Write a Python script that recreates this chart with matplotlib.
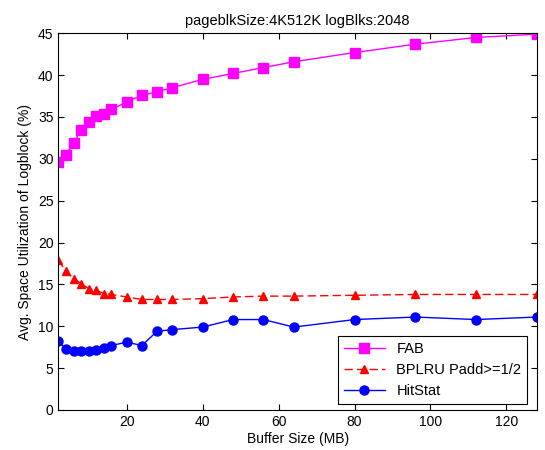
import matplotlib
matplotlib.use('Agg')
import matplotlib.pyplot as plt

plt.rcParams['font.family'] = ['Liberation Sans', 'DejaVu Sans']

# buffer sizes (MB)
bufSize = [2, 4, 6, 8, 10, 12, 14, 16, 20, 24, 28, 32, 40, 48, 56, 64, 80, 96, 112, 128]

# avg. space utilization of logblock (%)
fab = [29.6, 30.5, 31.9, 33.4, 34.4, 35.1, 35.4, 35.9, 36.8, 37.6, 38.0, 38.5,
       39.5, 40.2, 40.9, 41.6, 42.7, 43.7, 44.5, 44.9]
bplru = [17.9, 16.6, 15.7, 15.1, 14.5, 14.3, 13.9, 13.8, 13.5, 13.2, 13.2, 13.2,
         13.3, 13.5, 13.6, 13.6, 13.7, 13.8, 13.8, 13.8]
hitstat = [8.2, 7.3, 7.0, 7.0, 7.0, 7.2, 7.4, 7.7, 8.1, 7.7, 9.4, 9.6,
           9.9, 10.8, 10.8, 9.9, 10.8, 11.1, 10.8, 11.1]

fig = plt.figure(figsize=(5.45, 4.5), dpi=100)
ax = fig.add_axes([0.107, 0.089, 0.878, 0.837])

ax.plot(bufSize, fab, '-s', color='#ff00ff', lw=1, ms=6.5, label='FAB')
ax.plot(bufSize, bplru, '--^', color='#ff0000', lw=1, ms=6, dashes=(6, 3),
        label='BPLRU Padd>=1/2')
ax.plot(bufSize, hitstat, '-o', color='#0000ff', lw=1, ms=6.5, label='HitStat')

ax.set_xlim(2, 128)
ax.set_ylim(0, 45)
ax.set_xticks([20, 40, 60, 80, 100, 120])
ax.set_yticks(range(0, 46, 5))
ax.tick_params(direction='in', top=True, right=True, labelsize=10, length=4)

ax.set_xlabel('Buffer Size (MB)', fontsize=10, labelpad=2)
ax.set_ylabel('Avg. Space Utilization of Logblock (%)', fontsize=10, labelpad=4)
ax.set_title('pageblkSize:4K512K logBlks:2048', fontsize=10.5, pad=6)

leg = ax.legend(loc='lower right', fontsize=10.5, fancybox=False, framealpha=1,
                edgecolor='black', borderaxespad=0.4, handlelength=2.8,
                bbox_to_anchor=(0.992, 0.0))
leg.get_frame().set_linewidth(0.8)

fig.savefig('out.png', dpi=100)
